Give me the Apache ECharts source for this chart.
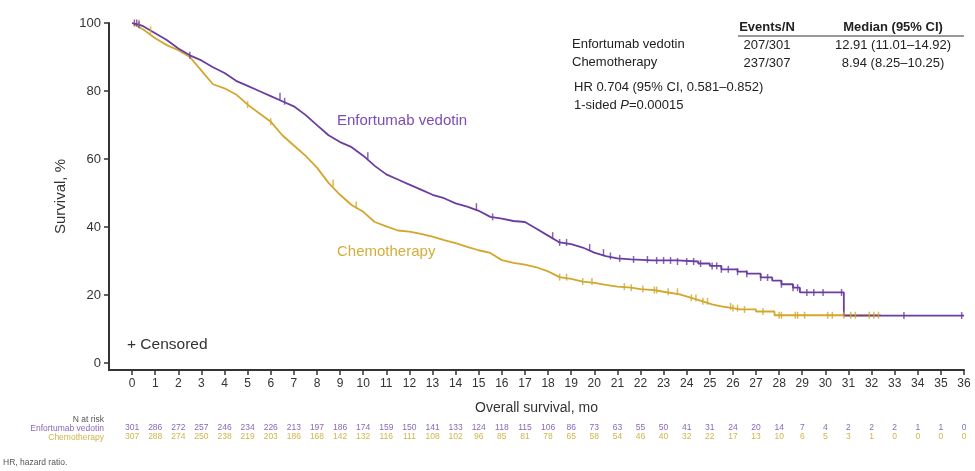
<!DOCTYPE html>
<html>
<head>
<meta charset="utf-8">
<script src="https://cdn.jsdelivr.net/npm/echarts@6/dist/echarts.min.js"></script>
<style>
  html, body { margin: 0; padding: 0; background: #fff; }
  #main { width: 975px; height: 471px; }
</style>
</head>
<body>
<div id="main"></div>
<script>
// Kaplan-Meier curves: [month, survival %]
// dense early part drawn as a jagged line, the sparse tail as explicit steps
const evCurve = [
  [0, 100], [0.3, 99.5], [0.5, 99], [1, 97], [1.5, 95], [2, 92.5], [2.5, 90.5],
  [3, 89], [3.5, 87], [4, 85.3], [4.5, 83], [5, 81.5], [5.5, 80], [6, 78.5],
  [6.5, 77], [7, 75.5], [7.5, 73], [8, 70], [8.5, 67], [9, 65], [9.5, 63.5],
  [10, 61], [10.5, 58], [11, 55.5], [11.5, 54], [12, 52.5], [12.5, 51],
  [13, 49.5], [13.5, 48.5], [14, 47], [14.5, 46], [15, 44.8], [15.5, 43],
  [16, 42.5], [16.5, 41.8], [17, 41.5], [17.5, 39.5], [18, 37.5], [18.5, 35.5],
  [19, 35], [19.5, 34], [20, 32.5], [20.5, 31.5], [21, 30.8], [21.6, 30.5],
  [22.5, 30.2], [23.6, 30.2], [23.6, 29.9], [24.5, 29.9], [24.5, 29.3],
  [25.0, 29.3], [25.0, 28.6], [25.5, 28.6], [25.5, 27.6], [26.2, 27.6],
  [26.2, 26.9], [26.6, 26.9], [26.6, 26.3], [27.2, 26.3], [27.2, 25.2],
  [27.7, 25.2], [27.7, 24.3], [28.1, 24.3], [28.1, 23.2], [28.6, 23.2],
  [28.6, 22.2], [28.9, 22.2], [28.9, 20.8], [30.8, 20.8], [30.8, 14.0], [36, 14.0]
];
const chemoCurve = [
  [0, 100], [0.5, 98], [1, 95.5], [1.5, 93.5], [2, 92], [2.5, 90], [3, 86],
  [3.5, 82], [4, 80.8], [4.5, 79], [5, 76], [5.5, 73.5], [6, 71], [6.5, 67],
  [7, 64], [7.5, 61], [8, 57.5], [8.5, 53], [9, 49.5], [9.5, 46.5], [10, 44.5],
  [10.5, 41.5], [11, 40.2], [11.5, 39], [12, 38.7], [12.5, 38], [13, 37.2],
  [13.5, 36.2], [14, 35.3], [14.5, 34.2], [15, 33.2], [15.5, 32.4], [16, 30.3],
  [16.5, 29.5], [17, 29], [17.5, 28.2], [18, 27], [18.5, 25.3], [19, 24.8],
  [19.5, 24], [20, 23.6], [20.5, 23], [21, 22.5], [21.6, 22.2], [22, 21.8],
  [22.6, 21.5], [23, 21], [23.7, 20.2], [24.2, 19.2], [24.7, 18.2], [25.1, 17.3],
  [25.5, 16.7], [26.0, 16.2], [26.3, 15.8], [27.0, 15.8], [27.0, 15.2],
  [27.8, 15.2], [27.8, 14.1], [32.4, 14.1]
];

// censoring times (months)
const evCensored = [0.1, 0.2, 0.3, 2.5, 6.4, 6.6, 10.2, 14.9, 15.6, 18.2, 18.5, 18.8,
  19.8, 20.4, 20.7, 21.1, 21.7, 22.3, 22.7, 23.0, 23.3, 23.6, 24.0, 24.3, 24.6,
  25.1, 25.3, 25.5, 25.8, 26.2, 26.6, 27.2, 27.5, 28.1, 28.6, 28.8, 29.2, 29.5,
  29.9, 30.7, 33.4, 35.9];
const chemoCensored = [0.3, 0.8, 5.0, 6.0, 8.7, 9.7, 18.5, 18.8, 19.5, 19.9, 21.3,
  21.6, 22.1, 22.6, 22.7, 23.2, 23.6, 24.2, 24.4, 24.7, 24.9, 25.9, 26.0, 26.2,
  26.5, 27.3, 28.0, 28.1, 28.7, 28.8, 29.1, 30.1, 30.3, 30.8, 31.1, 31.3, 31.9,
  32.1, 32.3];

// number at risk, months 0..36
const riskEV = [301, 286, 272, 257, 246, 234, 226, 213, 197, 186, 174, 159, 150, 141,
  133, 124, 118, 115, 106, 86, 73, 63, 55, 50, 41, 31, 24, 20, 14, 7, 4, 2, 2, 2, 1, 1, 0];
const riskChemo = [307, 288, 274, 250, 238, 219, 203, 186, 168, 142, 132, 116, 111, 108,
  102, 96, 85, 81, 78, 65, 58, 54, 46, 40, 32, 22, 17, 13, 10, 6, 5, 3, 1, 0, 0, 0, 0];

const monthTicks = [0, 1, 2, 3, 4, 5, 6, 7, 8, 9, 10, 11, 12, 13, 14, 15, 16, 17, 18,
  19, 20, 21, 22, 23, 24, 25, 26, 27, 28, 29, 30, 31, 32, 33, 34, 35, 36];
const survTicks = [0, 20, 40, 60, 80, 100];

const PURPLE = '#6a3ea1';
const GOLD = '#d3a72c';
const FONT = "'Liberation Sans', Arial, sans-serif";

// survival value of a curve at time t (last point at or before t)
function stepAt(curve, t) {
  let v = curve[0][1];
  for (const p of curve) { if (p[0] <= t) v = p[1]; }
  return v;
}
const evMarks = evCensored.map(t => [t, stepAt(evCurve, t)]);
const chemoMarks = chemoCensored.map(t => [t, stepAt(chemoCurve, t)]);

var chart = echarts.init(document.getElementById('main'));

function riskAxis(offset, list, color) {
  return {
    type: 'value', min: -1, max: 36, gridIndex: 0, position: 'bottom', offset: offset,
    axisLine: { show: false, onZero: false }, axisTick: { show: false }, splitLine: { show: false },
    axisLabel: {
      customValues: monthTicks, margin: 0, fontSize: 8.5, fontFamily: FONT, color: color,
      formatter: v => (list[v] === undefined ? '' : String(list[v]))
    }
  };
}

var option = {
  animation: false,
  backgroundColor: '#fff',
  grid: { left: 109, right: 11, top: 23, bottom: 101 },
  xAxis: [
    {
      type: 'value', min: -1, max: 36, position: 'bottom',
      name: 'Overall survival, mo', nameLocation: 'middle', nameGap: 31,
      nameTextStyle: { fontSize: 14, color: '#333', fontFamily: FONT },
      axisLine: { show: true, onZero: false, lineStyle: { color: '#333', width: 2 } },
      axisTick: { show: true, inside: false, customValues: monthTicks, length: 5, lineStyle: { color: '#333', width: 1.5 } },
      axisLabel: { customValues: monthTicks, fontSize: 12, color: '#333', fontFamily: FONT, margin: 8 },
      splitLine: { show: false }
    },
    riskAxis(53, riskEV, '#8a68b8'),
    riskAxis(62, riskChemo, '#cfb54a')
  ],
  yAxis: {
    type: 'value', min: -2, max: 100, position: 'left',
    name: 'Survival, %', nameLocation: 'middle', nameGap: 38, nameRotate: 90,
    nameTextStyle: { fontSize: 15, color: '#333', fontFamily: FONT },
    axisLine: { show: true, onZero: false, lineStyle: { color: '#333', width: 2 } },
    axisTick: { show: true, inside: false, customValues: survTicks, length: 5, lineStyle: { color: '#333', width: 1.5 } },
    axisLabel: { customValues: survTicks, fontSize: 13, color: '#333', fontFamily: FONT, margin: 8 },
    splitLine: { show: false }
  },
  series: [
    {
      name: 'Chemotherapy', type: 'line', data: chemoCurve,
      showSymbol: false, lineStyle: { color: GOLD, width: 1.8 }, z: 2
    },
    {
      name: 'Enfortumab vedotin', type: 'line', data: evCurve,
      showSymbol: false, lineStyle: { color: PURPLE, width: 1.8 }, z: 3
    },
    {
      type: 'scatter', data: chemoMarks, symbol: 'rect', symbolSize: [1.5, 7],
      itemStyle: { color: GOLD }, z: 4
    },
    {
      type: 'scatter', data: evMarks, symbol: 'rect', symbolSize: [1.5, 7],
      itemStyle: { color: PURPLE }, z: 5
    }
  ],
  graphic: [
    { type: 'text', left: 337, top: 113, style: { text: 'Enfortumab vedotin', fill: '#7b4cb5', font: '15px ' + FONT } },
    { type: 'text', left: 337, top: 244, style: { text: 'Chemotherapy', fill: '#d4ae3a', font: '15px ' + FONT } },
    { type: 'text', left: 127, top: 337, style: { text: '+ Censored', fill: '#333', font: '15.5px ' + FONT } },

    { type: 'text', x: 767, y: 21, style: { text: 'Events/N', fill: '#222', font: 'bold 13px ' + FONT, align: 'center' } },
    { type: 'text', x: 893, y: 21, style: { text: 'Median (95% CI)', fill: '#222', font: 'bold 13px ' + FONT, align: 'center' } },
    { type: 'line', shape: { x1: 738, y1: 36, x2: 964, y2: 36 }, style: { stroke: '#333', lineWidth: 1.2 } },
    { type: 'text', x: 572, y: 38, style: { text: 'Enfortumab vedotin', fill: '#222', font: '13px ' + FONT } },
    { type: 'text', x: 572, y: 56, style: { text: 'Chemotherapy', fill: '#222', font: '13px ' + FONT } },
    { type: 'text', x: 767, y: 39, style: { text: '207/301', fill: '#222', font: '13px ' + FONT, align: 'center' } },
    { type: 'text', x: 767, y: 57, style: { text: '237/307', fill: '#222', font: '13px ' + FONT, align: 'center' } },
    { type: 'text', x: 893, y: 39, style: { text: '12.91 (11.01\u201314.92)', fill: '#222', font: '13px ' + FONT, align: 'center' } },
    { type: 'text', x: 893, y: 57, style: { text: '8.94 (8.25\u201310.25)', fill: '#222', font: '13px ' + FONT, align: 'center' } },
    { type: 'text', x: 574, y: 81, style: { text: 'HR 0.704 (95% CI, 0.581\u20130.852)', fill: '#222', font: '13px ' + FONT } },
    {
      type: 'text', x: 574, y: 99,
      style: {
        text: '1-sided {i|P}=0.00015', fill: '#222', font: '13px ' + FONT,
        rich: { i: { fontStyle: 'italic', fontSize: 13, fontFamily: FONT, fill: '#222' } }
      }
    },

    { type: 'text', x: 104, y: 415, style: { text: 'N at risk', fill: '#555', font: '8.5px ' + FONT, align: 'right' } },
    { type: 'text', x: 104, y: 424, style: { text: 'Enfortumab vedotin', fill: '#8a68b8', font: '8.5px ' + FONT, align: 'right' } },
    { type: 'text', x: 104, y: 433, style: { text: 'Chemotherapy', fill: '#cfb54a', font: '8.5px ' + FONT, align: 'right' } },
    { type: 'text', x: 3, y: 458, style: { text: 'HR, hazard ratio.', fill: '#555', font: '8.5px ' + FONT } }
  ]
};

option && chart.setOption(option);
</script>
</body>
</html>
